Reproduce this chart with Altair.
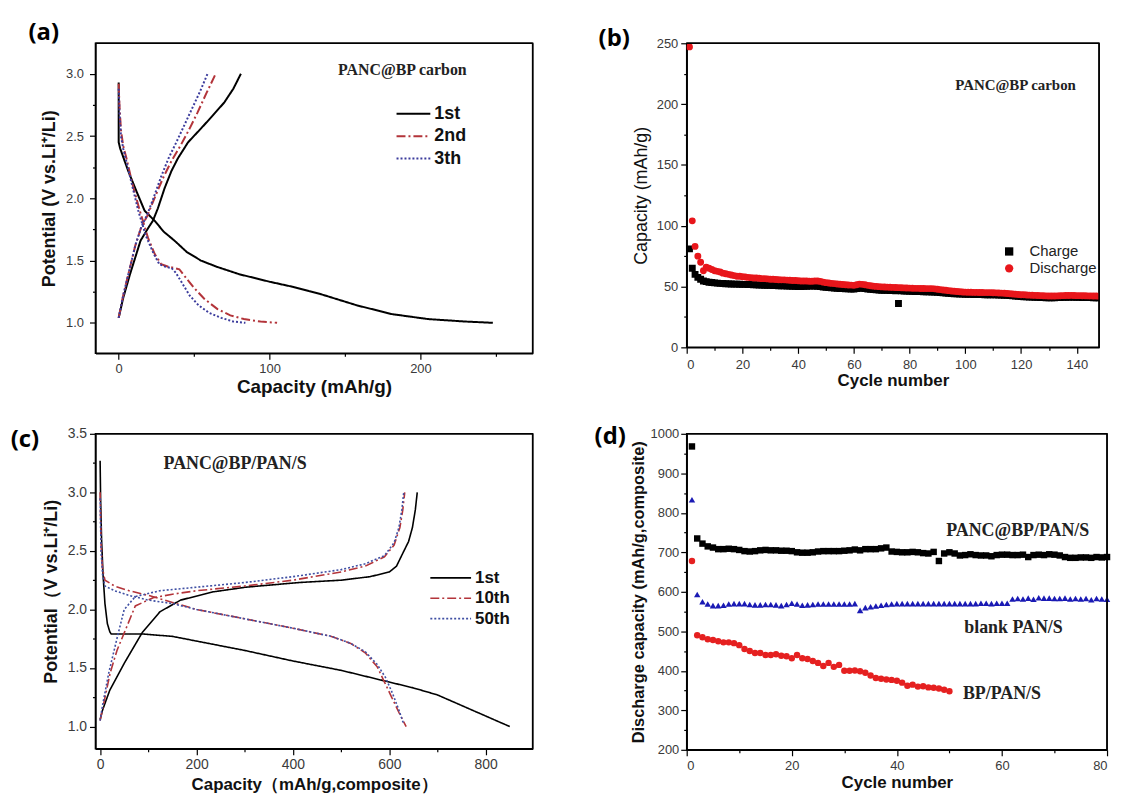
import altair as alt
import pandas as pd

FONT = "Liberation Sans"
SERIF = "Liberation Serif"

# ---------------- panel (a) ----------------
a_cycles = ["1st", "2nd", "3th"]
a_colors = ["#000000", "#b3343a", "#3b3b9c"]
a_dashes = [[1, 0], [9, 3, 2, 3], [2, 2]]

a1_dis_cap = [0, 0, 1, 6.3, 12, 17.2, 23.8, 30, 37, 45, 54.5, 65, 80, 100, 115, 134, 158, 181, 205, 230, 248]
a1_dis_v = [2.93, 2.45, 2.40, 2.22, 2.05, 1.90, 1.82, 1.73, 1.66, 1.57, 1.50, 1.45, 1.39, 1.33, 1.29, 1.23, 1.14, 1.07, 1.03, 1.01, 1.0]
a1_chg_cap = [0, 3, 7.5, 14.5, 20, 22.7, 26, 30.4, 35, 39.2, 46, 54.5, 62, 70, 76, 81]
a1_chg_v = [1.04, 1.2, 1.39, 1.66, 1.77, 1.82, 1.92, 2.08, 2.22, 2.32, 2.45, 2.56, 2.66, 2.77, 2.88, 3.0]
a2_dis_cap = [0, 0.5, 1.5, 3, 5.2, 9, 14, 19.5, 24, 28.2, 33, 37, 40.2, 44, 50, 57, 65.5, 74, 83, 94, 105]
a2_dis_v = [2.92, 2.75, 2.55, 2.42, 2.32, 2.12, 1.90, 1.68, 1.55, 1.47, 1.45, 1.44, 1.43, 1.37, 1.28, 1.19, 1.11, 1.06, 1.03, 1.01, 1.0]
a2_chg_cap = [0, 3, 7, 11, 15, 19, 23, 29.3, 35, 41.3, 47, 52.3, 58, 64.3]
a2_chg_v = [1.04, 1.22, 1.42, 1.62, 1.77, 1.86, 1.98, 2.16, 2.30, 2.43, 2.56, 2.69, 2.84, 3.0]
a3_dis_cap = [0, 0.5, 1.5, 3, 5, 9, 13, 18, 23, 27, 31, 35, 38, 42, 47, 53, 60, 68, 76, 84]
a3_dis_v = [2.88, 2.7, 2.5, 2.4, 2.3, 2.1, 1.9, 1.7, 1.56, 1.47, 1.45, 1.44, 1.40, 1.32, 1.22, 1.14, 1.08, 1.04, 1.01, 1.0]
a3_chg_cap = [0, 3, 7, 11, 15, 19, 23, 28, 33, 39, 44, 49, 54, 58.9]
a3_chg_v = [1.04, 1.22, 1.42, 1.62, 1.77, 1.87, 2.0, 2.17, 2.32, 2.47, 2.60, 2.73, 2.86, 3.0]

a_x_ticks = [0, 50, 100, 150, 200, 250]
a_y_ticks = [1.0, 1.25, 1.5, 1.75, 2.0, 2.25, 2.5, 2.75, 3.0]
a_note = ["PANC@BP carbon"]
a_note_x = [188]
a_note_y = [3.03]

# ---------------- panel (b) ----------------
b_series = ["Charge", "Discharge"]
b_colors = ["#000000", "#e8161b"]
b_shapes = ["square", "circle"]
b_discharge = [
    247, 104, 83, 75, 70, 63, 66, 65, 64, 63,
    62.5, 62, 61, 60.5, 60, 59.5, 59, 58.5, 58.5, 58,
    57.8, 57.5, 57.3, 57, 57, 56.8, 56.5, 56.5, 56.3, 56,
    56, 55.8, 55.6, 55.5, 55.5, 55.3, 55.2, 55, 55, 54.8,
    54.6, 54.5, 54.5, 54.4, 54.3, 54.5, 54.6, 54.2, 53.6, 53.2,
    52.9, 52.6, 52.4, 52.1, 51.9, 51.7, 51.5, 51.3, 51.2, 51.0,
    51.5, 52.0, 51.8, 51.5, 51.0, 50.6, 50.3, 50.1, 49.9, 49.7,
    49.6, 49.5, 49.4, 49.3, 49.2, 49.1, 49.0, 48.9, 48.8, 48.7,
    48.6, 48.5, 48.5, 48.4, 48.4, 48.3, 48.3, 48.3, 48.1, 47.8,
    47.5, 47.2, 46.9, 46.6, 46.3, 46.1, 45.9, 45.7, 45.5, 45.4,
    45.3, 45.3, 45.2, 45.2, 45.1, 45.1, 45.0, 45.0, 45.0, 44.9,
    44.8, 44.7, 44.6, 44.5, 44.3, 44.1, 43.9, 43.7, 43.5, 43.3,
    43.2, 43.0, 42.9, 42.8, 42.7, 42.6, 42.5, 42.4, 42.3, 42.2,
    42.2, 42.2, 42.3, 42.4, 42.5, 42.6, 42.6, 42.7, 42.6, 42.5,
    42.5, 42.4, 42.4, 42.3, 42.3, 42.2, 42.2, 42.1, 42.1, 42.0,
]
b_charge = [
    81, 65, 60, 57.5, 56, 54.5, 54, 53.5, 53.3, 53,
    52.8, 52.6, 52.5, 52.3, 52.2, 52.1, 52.0, 52.0, 51.9, 51.8,
    51.8, 51.7, 51.6, 51.5, 51.4, 51.3, 51.2, 51.1, 51.0, 51.0,
    50.9, 50.8, 50.7, 50.6, 50.5, 50.4, 50.3, 50.2, 50.1, 50.0,
    50.0, 50.1, 50.2, 50.3, 50.4, 50.3, 50.1, 49.9, 49.6, 49.4,
    49.2, 49.0, 48.8, 48.6, 48.4, 48.3, 48.2, 48.1, 48.0, 48.0,
    48.4, 48.8, 48.6, 48.3, 48.0, 47.8, 47.6, 47.4, 47.2, 47.0,
    46.9, 46.8, 46.7, 46.6, 46.5, 36.0, 46.4, 46.3, 46.2, 46.1,
    46.0, 45.9, 45.8, 45.8, 45.7, 45.6, 45.6, 45.5, 45.4, 45.3,
    45.1, 44.9, 44.7, 44.5, 44.3, 44.1, 44.0, 43.9, 43.8, 43.7,
    43.6, 43.6, 43.5, 43.5, 43.4, 43.4, 43.3, 43.3, 43.2, 43.2,
    43.1, 43.0, 42.9, 42.8, 42.7, 42.5, 42.3, 42.1, 41.9, 41.7,
    41.6, 41.5, 41.4, 41.3, 41.2, 41.1, 41.0, 40.9, 40.8, 40.8,
    40.8, 40.8, 40.9, 41.0, 41.1, 41.2, 41.2, 41.3, 41.2, 41.1,
    41.1, 41.0, 41.0, 40.9, 40.9, 40.8, 40.8, 40.7, 40.7, 40.6,
]
b_x_ticks = list(range(0, 150, 10))
b_y_ticks = list(range(0, 251, 25))
b_note = ["PANC@BP carbon"]
b_note_x = [118]
b_note_y = [216]

# ---------------- panel (c) ----------------
c_cycles = ["1st", "10th", "50th"]
c_colors = ["#000000", "#b3343a", "#3f4fa3"]
c_dashes = [[1, 0], [9, 3, 2, 3], [2, 2]]
c1_dis_cap = [0, 1, 3, 6, 10, 15, 20, 23, 40, 90, 150, 200, 300, 400, 500, 600, 650, 700, 750, 800, 850]
c1_dis_v = [3.27, 2.95, 2.6, 2.3, 2.05, 1.88, 1.81, 1.79, 1.79, 1.79, 1.77, 1.73, 1.65, 1.56, 1.48, 1.38, 1.33, 1.27, 1.18, 1.09, 1.0]
c1_chg_cap = [0, 5, 20, 50, 87, 124, 167, 234, 302, 413, 500, 560, 600, 615, 628, 640, 648, 654, 658]
c1_chg_v = [1.06, 1.14, 1.31, 1.54, 1.80, 1.98, 2.08, 2.15, 2.19, 2.23, 2.25, 2.28, 2.32, 2.37, 2.48, 2.58, 2.70, 2.85, 3.0]
c10_dis_cap = [0, 2, 5, 10, 30, 60, 100, 150, 200, 300, 400, 480, 520, 550, 575, 590, 605, 620, 635]
c10_dis_v = [3.0, 2.55, 2.35, 2.25, 2.20, 2.16, 2.12, 2.06, 2.0, 1.92, 1.84, 1.77, 1.71, 1.63, 1.51, 1.38, 1.25, 1.12, 1.0]
c50_dis_cap = [0, 2, 5, 10, 30, 60, 100, 150, 200, 300, 400, 480, 520, 550, 575, 592, 607, 620, 630]
c50_dis_v = [2.95, 2.5, 2.3, 2.2, 2.16, 2.12, 2.08, 2.05, 2.0, 1.92, 1.84, 1.77, 1.71, 1.64, 1.53, 1.42, 1.28, 1.14, 1.02]
c10_chg_cap = [0, 5, 21, 35, 50, 73, 110, 150, 200, 300, 400, 500, 550, 590, 610, 622, 628, 632]
c10_chg_v = [1.05, 1.15, 1.46, 1.65, 1.80, 2.03, 2.10, 2.13, 2.16, 2.20, 2.25, 2.32, 2.37, 2.45, 2.55, 2.70, 2.85, 3.0]
c50_chg_cap = [0, 5, 18, 36, 50, 73, 124, 200, 300, 400, 500, 550, 590, 610, 620, 626, 630]
c50_chg_v = [1.05, 1.18, 1.46, 1.77, 2.0, 2.11, 2.16, 2.19, 2.23, 2.28, 2.34, 2.39, 2.46, 2.57, 2.70, 2.85, 3.0]
c_x_ticks = list(range(0, 801, 100))
c_y_ticks = [1.0, 1.25, 1.5, 1.75, 2.0, 2.25, 2.5, 2.75, 3.0, 3.25, 3.5]
c_note = ["PANC@BP/PAN/S"]
c_note_x = [280]
c_note_y = [3.24]

# ---------------- panel (d) ----------------
d_series = ["PANC@BP/PAN/S", "blank PAN/S", "BP/PAN/S"]
d_colors = ["#000000", "#1a1ab4", "#e52020"]
d_shapes = ["square", "triangle-up", "circle"]
d_black = [
    968, 735, 722, 715, 712, 708, 708, 709, 708, 706,
    703, 702, 703, 705, 706, 705, 705, 704, 704, 703,
    700, 699, 699, 700, 702, 703, 703, 703, 703, 704,
    705, 707, 705, 708, 708, 708, 710, 712, 702, 701,
    700, 700, 701, 700, 698, 697, 701, 678, 697, 700,
    697, 692, 693, 695, 693, 692, 692, 690, 693, 694,
    694, 693, 693, 694, 688, 693, 694, 693, 695, 694,
    692, 688, 686, 686, 687, 687, 686, 688, 687, 688,
]
d_blue = [
    833, 593, 575, 569, 565, 565, 566, 569, 570, 570,
    570, 568, 567, 567, 568, 568, 567, 565, 568, 571,
    569, 566, 567, 568, 569, 569, 569, 569, 569, 569,
    569, 570, 553, 560, 562, 564, 566, 568, 569, 570,
    570, 570, 570, 570, 570, 570, 570, 570, 570, 570,
    570, 570, 570, 570, 570, 571, 571, 570, 571, 571,
    571, 582, 583, 582, 584, 581, 585, 584, 584, 583,
    583, 584, 582, 583, 582, 583, 580, 583, 582, 581,
]
d_red = [
    678, 490, 485, 480, 478, 475, 472, 472, 470, 465,
    455, 450, 445, 445, 440, 440, 442, 438, 437, 432,
    440, 432, 430, 425, 420, 412, 420, 410, 415, 400,
    400, 401, 399, 395, 388, 382, 380, 378, 377, 375,
    370, 362, 365, 360, 361, 358, 357, 355, 352, 348,
]
d_x_ticks = list(range(0, 81, 10))
d_y_ticks = list(range(200, 1001, 50))
d_note_x = [63, 62.2, 60]
d_note_y = [753, 508, 340]

# ---------------- layout ----------------
AW, AH = 440, 312
BW, BH = 415, 306
CW, CH = 440, 317
DW, DH = 423, 318


def curve_rows(cap, v, cycle, seg):
    return [dict(cap=x, V=y, cycle=cycle, seg=seg, idx=i) for i, (x, y) in enumerate(zip(cap, v))]


def tick_axis(orient, title, values, test, fmt, off, length, title_size, title_weight="bold",
              label_size=13, label_pad=3):
    kw = dict(
        values=values, format=fmt, labelExpr=f"({test}) ? datum.label : ''",
        tickSize={"condition": {"test": test, "value": 6}, "value": 3},
        labelFontSize=label_size, labelPadding=label_pad, labelFont=FONT, labelColor="#3a3a3a",
        title=title, titleFont=FONT, titleFontSize=title_size, titleFontWeight=title_weight,
        titleBaseline="middle", titleColor="#111111",
        domainColor="black", domainWidth=1.5, tickColor="black", tickWidth=1.2, grid=False,
    )
    if orient == "left":
        kw.update(titleX=-off, titleY=length / 2)
    else:
        kw.update(titleX=length / 2, titleY=off)
    return alt.Axis(**kw)


def panel_label(text, dx, dy):
    return alt.Chart(pd.DataFrame({"t": [text]})).mark_text(
        font="Open Sans", fontWeight="bold", fontSize=24, align="center", baseline="middle", color="black"
    ).encode(text="t:N", x=alt.value(dx), y=alt.value(dy))


def frame(w, h):
    base = alt.Chart(pd.DataFrame({"k": [0]}))
    top = base.mark_rule(color="black", strokeWidth=1.5).encode(
        x=alt.value(0), x2=alt.value(w), y=alt.value(0))
    right = base.mark_rule(color="black", strokeWidth=1.5).encode(
        x=alt.value(w), y=alt.value(0), y2=alt.value(h))
    return top, right


def line_legend(cycles, colors, dashes, x0, x1, y0, step, font_size, stroke_w):
    df = pd.DataFrame({"cycle": cycles, "row": list(range(len(cycles)))})
    base = alt.Chart(df).transform_calculate(py=f"{y0} + datum.row * {step}")
    ypos = alt.Y("py:Q", scale=None, axis=None)
    col = alt.Color("cycle:N", scale=alt.Scale(domain=cycles, range=colors), legend=None)
    dash = alt.StrokeDash("cycle:N", scale=alt.Scale(domain=cycles, range=dashes), legend=None)
    rules = base.mark_rule(strokeWidth=stroke_w).encode(
        x=alt.value(x0), x2=alt.value(x1), y=ypos, color=col, strokeDash=dash)
    labels = base.mark_text(align="left", baseline="middle", font=FONT, fontWeight="bold",
                            fontSize=font_size, color="#111111").encode(
        x=alt.value(x1 + 4), y=ypos, text="cycle:N")
    return rules, labels


# ---- (a)
rows = []
for cyc, (dc, dv, cc, cv) in zip(a_cycles, [
    (a1_dis_cap, a1_dis_v, a1_chg_cap, a1_chg_v),
    (a2_dis_cap, a2_dis_v, a2_chg_cap, a2_chg_v),
    (a3_dis_cap, a3_dis_v, a3_chg_cap, a3_chg_v),
]):
    rows += curve_rows(dc, dv, cyc, cyc + "d")
    rows += curve_rows(cc, cv, cyc, cyc + "c")
df_a = pd.DataFrame(rows)

ax_a_x = alt.X("cap:Q", scale=alt.Scale(domain=[-15.4, 274.4], nice=False, zero=False),
               axis=tick_axis("bottom", "Capacity (mAh/g)", a_x_ticks, "datum.value % 100 === 0", "d", 33, AW, 19))
ax_a_y = alt.Y("V:Q", scale=alt.Scale(domain=[0.755, 3.245], nice=False, zero=False),
               axis=tick_axis("left", "Potential (V vs.Li⁺/Li)", a_y_ticks,
                              "abs(datum.value*2 - round(datum.value*2)) < 0.001", ".1f", 46, AH, 18, label_pad=6))
lines_a = alt.Chart(df_a).mark_line(strokeWidth=2).encode(
    x=ax_a_x, y=ax_a_y,
    color=alt.Color("cycle:N", scale=alt.Scale(domain=a_cycles, range=a_colors), legend=None),
    strokeDash=alt.StrokeDash("cycle:N", scale=alt.Scale(domain=a_cycles, range=a_dashes), legend=None),
    detail="seg:N", order="idx:Q",
)
note_a = alt.Chart(pd.DataFrame({"cap": a_note_x, "V": a_note_y, "t": a_note})).mark_text(
    font=SERIF, fontWeight="bold", fontSize=16, align="center", baseline="middle", color="#222222"
).encode(x=ax_a_x, y=ax_a_y, text="t:N")
leg_a_rules, leg_a_text = line_legend(a_cycles, a_colors, a_dashes, 303, 337, 71, 22.5, 18, 2)
chart_a = alt.layer(lines_a, note_a, leg_a_rules, leg_a_text, *frame(AW, AH),
                    panel_label("(a)", -52, -10)).properties(width=AW, height=AH)

# ---- (b)
b_rows = [dict(cycle=i + 1, cap=v, s="Charge") for i, v in enumerate(b_charge)]
b_rows += [dict(cycle=i + 1, cap=v, s="Discharge") for i, v in enumerate(b_discharge)]
df_b = pd.DataFrame(b_rows)
ax_b_x = alt.X("cycle:Q", scale=alt.Scale(domain=[0, 148], nice=False, zero=False),
               axis=tick_axis("bottom", "Cycle number", b_x_ticks, "datum.value % 20 === 0", "d", 33, BW, 17, label_pad=5))
ax_b_y = alt.Y("cap:Q", scale=alt.Scale(domain=[0, 250], nice=False),
               axis=tick_axis("left", "Capacity (mAh/g)", b_y_ticks, "datum.value % 50 === 0", "d", 45, BH, 18,
                              title_weight="normal"))
leg_b = alt.Legend(orient="none", legendX=317, legendY=202, title=None, symbolSize=70,
                   labelFont=FONT, labelFontSize=15, labelColor="#222222", labelOffset=13, padding=0,
                   rowPadding=1, symbolStrokeWidth=0)
pts_b = alt.Chart(df_b).mark_point(filled=True, size=48, opacity=1, clip=True).encode(
    x=ax_b_x, y=ax_b_y,
    color=alt.Color("s:N", scale=alt.Scale(domain=b_series, range=b_colors), legend=leg_b),
    shape=alt.Shape("s:N", scale=alt.Scale(domain=b_series, range=b_shapes), legend=leg_b),
)
note_b = alt.Chart(pd.DataFrame({"cycle": b_note_x, "cap": b_note_y, "t": b_note})).mark_text(
    font=SERIF, fontWeight="bold", fontSize=15, align="center", baseline="middle", color="#222222"
).encode(x=ax_b_x, y=ax_b_y, text="t:N")
chart_b = alt.layer(pts_b, note_b, *frame(BW, BH), panel_label("(b)", -73, -4)).properties(width=BW, height=BH)

# ---- (c)
rows = []
for cyc, (dc, dv, cc, cv) in zip(c_cycles, [
    (c1_dis_cap, c1_dis_v, c1_chg_cap, c1_chg_v),
    (c10_dis_cap, c10_dis_v, c10_chg_cap, c10_chg_v),
    (c50_dis_cap, c50_dis_v, c50_chg_cap, c50_chg_v),
]):
    rows += curve_rows(dc, dv, cyc, cyc + "d")
    rows += curve_rows(cc, cv, cyc, cyc + "c")
df_c = pd.DataFrame(rows)
ax_c_x = alt.X("cap:Q", scale=alt.Scale(domain=[-9.7, 897.5], nice=False, zero=False),
               axis=tick_axis("bottom", "Capacity（mAh/g,composite）", c_x_ticks, "datum.value % 200 === 0", "d",
                              36, CW, 17, label_size=14))
ax_c_y = alt.Y("V:Q", scale=alt.Scale(domain=[0.81, 3.5], nice=False, zero=False),
               axis=tick_axis("left", "Potential（V vs.Li⁺/Li)", c_y_ticks,
                              "abs(datum.value*2 - round(datum.value*2)) < 0.001", ".1f", 44, CH, 18, label_size=14))
lines_c = alt.Chart(df_c).mark_line(strokeWidth=1.6).encode(
    x=ax_c_x, y=ax_c_y,
    color=alt.Color("cycle:N", scale=alt.Scale(domain=c_cycles, range=c_colors), legend=None),
    strokeDash=alt.StrokeDash("cycle:N", scale=alt.Scale(domain=c_cycles, range=c_dashes), legend=None),
    detail="seg:N", order="idx:Q",
)
note_c = alt.Chart(pd.DataFrame({"cap": c_note_x, "V": c_note_y, "t": c_note})).mark_text(
    font=SERIF, fontWeight="bold", fontSize=18, align="center", baseline="middle", color="#222222"
).encode(x=ax_c_x, y=ax_c_y, text="t:N")
leg_c_rules, leg_c_text = line_legend(c_cycles, c_colors, c_dashes, 337, 378, 145, 20.5, 17, 1.6)
chart_c = alt.layer(lines_c, note_c, leg_c_rules, leg_c_text, *frame(CW, CH),
                    panel_label("(c)", -71, 6)).properties(width=CW, height=CH)

# ---- (d)
d_rows = []
for name, vals in zip(d_series, [d_black, d_blue, d_red]):
    d_rows += [dict(cycle=i + 1, cap=v, s=name) for i, v in enumerate(vals)]
df_d = pd.DataFrame(d_rows)
ax_d_x = alt.X("cycle:Q", scale=alt.Scale(domain=[0, 80], nice=False, zero=False),
               axis=tick_axis("bottom", "Cycle number", d_x_ticks, "datum.value % 20 === 0", "d", 33, DW, 17, label_pad=4))
ax_d_y = alt.Y("cap:Q", scale=alt.Scale(domain=[200, 1000], nice=False, zero=False),
               axis=tick_axis("left", "Discharge capacity (mAh/g,composite)", d_y_ticks,
                              "datum.value % 100 === 0", "d", 48, DH, 16.5, label_pad=2))
pts_d = alt.Chart(df_d).mark_point(filled=True, size=42, opacity=1).encode(
    x=ax_d_x, y=ax_d_y,
    color=alt.Color("s:N", scale=alt.Scale(domain=d_series, range=d_colors), legend=None),
    shape=alt.Shape("s:N", scale=alt.Scale(domain=d_series, range=d_shapes), legend=None),
)
note_d = alt.Chart(pd.DataFrame({"cycle": d_note_x, "cap": d_note_y, "t": d_series})).mark_text(
    font=SERIF, fontWeight="bold", fontSize=18, align="center", baseline="middle", color="#222222"
).encode(x=ax_d_x, y=ax_d_y, text="t:N")
chart_d = alt.layer(pts_d, note_d, *frame(DW, DH), panel_label("(d)", -77, 3)).properties(width=DW, height=DH)

chart = alt.concat(
    chart_a, chart_b, chart_c, chart_d,
    columns=2, spacing={"row": 81, "column": 155}, bounds="flush", align="each",
).resolve_scale(
    color="independent", shape="independent", strokeDash="independent"
).properties(
    padding={"left": 1, "top": 10, "right": 2, "bottom": 2}, background="white",
).configure_view(
    stroke="black", strokeWidth=1.5
)

chart.save("out.html", embed_options={"renderer": "svg", "actions": False})
